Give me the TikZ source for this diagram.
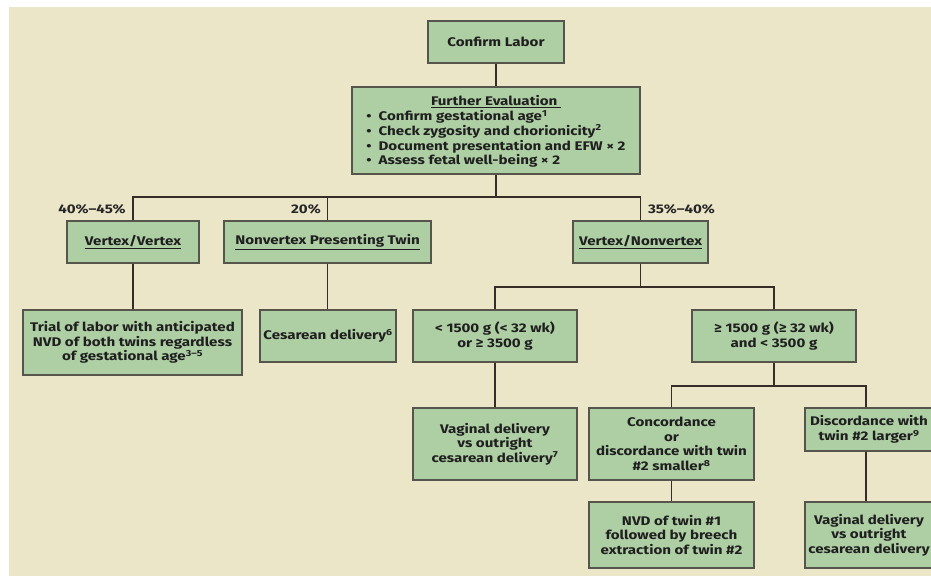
\documentclass[tikz,border=0pt]{standalone}
\usepackage{fontspec}
\setmainfont{Fira Sans}[FakeStretch=1.21]
\usetikzlibrary{calc}
\definecolor{bgcol}{RGB}{236,230,201}
\definecolor{boxfill}{RGB}{174,206,164}
\definecolor{boxline}{RGB}{85,85,75}
\definecolor{conncol}{RGB}{55,45,40}
\tikzset{
  box/.style={draw=boxline, line width=1.1pt, fill=boxfill, align=center, inner sep=0pt,
    text=black!88, font=\bfseries\fontsize{12.5}{14.5}\selectfont},
  conn/.style={draw=conncol, line width=1.7pt},
  pct/.style={font=\bfseries\fontsize{12.5}{14}\selectfont, inner sep=0pt, text=black!85}
}
\begin{document}
\begin{tikzpicture}[x=1pt,y=-1pt]
\useasboundingbox (0,0) rectangle (931,576);
\clip (0,0) rectangle (931,576);
\fill[white] (0,0) rectangle (931,576);
\fill[bgcol] (9,7) rectangle (931,576);

\node[box, minimum width=136, minimum height=42] (confirm) at (496,42) {Confirm Labor};
\node[box, minimum width=288, minimum height=87, font=\bfseries\fontsize{12.5}{14.7}\selectfont] (eval) at (496,130.5) {%
  \begin{tabular}{@{}l@{}}
  \multicolumn{1}{c}{\rule{0pt}{14pt}\underline{Further Evaluation\ }}\\
  \textbullet\hspace{7pt}Confirm gestational age\textsuperscript{1}\\
  \textbullet\hspace{7pt}Check zygosity and chorionicity\textsuperscript{2}\\
  \textbullet\hspace{7pt}Document presentation and EFW × 2\\
  \textbullet\hspace{7pt}Assess fetal well-being × 2
  \end{tabular}};

\node[box, minimum width=132, minimum height=42] (vv) at (133,242) {\underline{Vertex/Vertex}};
\node[box, minimum width=207, minimum height=42] (nv) at (327.5,242) {\underline{Nonvertex Presenting Twin}};
\node[box, minimum width=135, minimum height=42] (vn) at (640.5,242) {\underline{Vertex/Nonvertex}};

\node[pct] (p1) at (92,209) {40\%–45\%};
\node[pct] (p2) at (306,209) {20\%};
\node[pct] (p3) at (681.5,209) {35\%–40\%};

\node[box, minimum width=219, minimum height=65] (trial) at (132.5,342.5) {Trial of labor with anticipated\\NVD of both twins regardless\\of gestational age\textsuperscript{3–5}};
\node[box, minimum width=136, minimum height=52] (ces) at (328,336) {Cesarean delivery\textsuperscript{6}};
\node[box, minimum width=164, minimum height=52] (lt) at (495,336) {< 1500 g (< 32 wk)\\or ≥ 3500 g};
\node[box, minimum width=164, minimum height=52] (ge) at (774,336) {≥ 1500 g (≥ 32 wk)\\and < 3500 g};

\node[box, minimum width=164, minimum height=72] (vag1) at (495,444) {Vaginal delivery\\vs outright\\cesarean delivery\textsuperscript{7}};
\node[box, minimum width=165, minimum height=72] (conc) at (671.5,444) {Concordance\\or\\discordance with twin\\\#2 smaller\textsuperscript{8}};
\node[box, minimum width=128, minimum height=43] (disc) at (869,429.5) {Discordance with\\twin \#2 larger\textsuperscript{9}};

\node[box, minimum width=165, minimum height=66] (nvd) at (671.5,535) {NVD of twin \#1\\followed by breech\\extraction of twin \#2};
\node[box, minimum width=128, minimum height=66] (vag2) at (869,535) {Vaginal delivery\\vs outright\\cesarean delivery};

\coordinate (b1) at (496,197);
\coordinate (b2) at (640.5,287);
\coordinate (b3) at (774,386);

\draw[conn] (confirm.south) -- (eval.north);
\draw[conn] (eval.south) -- (b1);
\draw[conn] (vv.north) |- (b1) -| (vn.north);
\draw[conn] (nv.north) -- (nv.north |- b1);
\draw[conn] (vv.south) -- (vv.south |- trial.north);
\draw[conn] (nv.south) -- (nv.south |- ces.north);
\draw[conn] (vn.south) -- (b2);
\draw[conn] (lt.north) |- (b2) -| (ge.north);
\draw[conn] (lt.south) -- (vag1.north);
\draw[conn] (ge.south) -- (b3);
\draw[conn] (conc.north) |- (b3) -| ([xshift=-3pt]disc.north);
\draw[conn] (conc.south) -- (nvd.north);
\draw[conn] ([xshift=-3pt]disc.south) -- ([xshift=-3pt]vag2.north);
\end{tikzpicture}
\end{document}
